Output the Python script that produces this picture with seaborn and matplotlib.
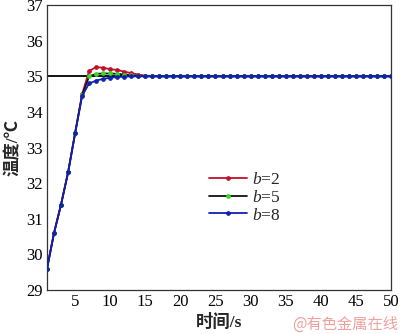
import matplotlib
matplotlib.use("Agg")
import matplotlib.pyplot as plt
import seaborn as sns
import pandas as pd

# time axis (s) and temperature responses for three values of b
time_s = list(range(1, 51))

temp_b2 = [29.6, 30.6, 31.4, 32.3, 33.4, 34.5, 35.15, 35.26, 35.24, 35.2,
           35.18, 35.13, 35.09, 35.05, 35.02, 35.01, 35.0, 35.0, 35.0, 35.0,
           35.0, 35.0, 35.0, 35.0, 35.0, 35.0, 35.0, 35.0, 35.0, 35.0,
           35.0, 35.0, 35.0, 35.0, 35.0, 35.0, 35.0, 35.0, 35.0, 35.0,
           35.0, 35.0, 35.0, 35.0, 35.0, 35.0, 35.0, 35.0, 35.0, 35.0]
temp_b5 = [29.6, 30.6, 31.4, 32.3, 33.4, 34.47, 35.0, 35.07, 35.08, 35.08,
           35.07, 35.05, 35.03, 35.01, 35.0, 35.0, 35.0, 35.0, 35.0, 35.0,
           35.0, 35.0, 35.0, 35.0, 35.0, 35.0, 35.0, 35.0, 35.0, 35.0,
           35.0, 35.0, 35.0, 35.0, 35.0, 35.0, 35.0, 35.0, 35.0, 35.0,
           35.0, 35.0, 35.0, 35.0, 35.0, 35.0, 35.0, 35.0, 35.0, 35.0]
temp_b8 = [29.6, 30.6, 31.4, 32.3, 33.4, 34.45, 34.8, 34.88, 34.93, 34.96,
           34.98, 34.99, 35.0, 35.0, 35.0, 35.0, 35.0, 35.0, 35.0, 35.0,
           35.0, 35.0, 35.0, 35.0, 35.0, 35.0, 35.0, 35.0, 35.0, 35.0,
           35.0, 35.0, 35.0, 35.0, 35.0, 35.0, 35.0, 35.0, 35.0, 35.0,
           35.0, 35.0, 35.0, 35.0, 35.0, 35.0, 35.0, 35.0, 35.0, 35.0]
setpoint = 35.0

series_labels = ["$b$=2", "$b$=5", "$b$=8"]
x_ticks = [5, 10, 15, 20, 25, 30, 35, 40, 45, 50]
y_ticks = [29, 30, 31, 32, 33, 34, 35, 36, 37]

sns.set_theme(style="white")
plt.rcParams["font.family"] = ["Liberation Serif", "Noto Sans CJK SC"]
plt.rcParams["mathtext.fontset"] = "custom"
plt.rcParams["mathtext.it"] = "Liberation Serif:italic"
plt.rcParams["mathtext.rm"] = "Liberation Serif"

fig = plt.figure(figsize=(4.0, 3.34), dpi=100)
ax = fig.add_axes([0.1175, 0.1317, 0.86, 0.853])

ax.axhline(setpoint, color="black", lw=1.3, zorder=1)

line_colors = ["#c0102a", "#111111", "#1020b0"]
marker_colors = ["#c0102a", "#33dd22", "#1020b0"]
for vals, lab, lc, mc in zip([temp_b2, temp_b5, temp_b8], series_labels,
                             line_colors, marker_colors):
    df = pd.DataFrame({"t": time_s, "T": vals})
    sns.lineplot(data=df, x="t", y="T", ax=ax, color=lc, lw=1.3,
                 marker="o", markersize=2.6, markerfacecolor=mc,
                 markeredgecolor=mc, label=lab, zorder=3)

ax.set_xlim(1, 50)
ax.set_ylim(29, 37)
ax.set_xticks(x_ticks)
ax.set_yticks(y_ticks)
ax.tick_params(direction="in", length=4, width=0.8, labelsize=12,
               colors="black", pad=3)
for s in ax.spines.values():
    s.set_color("#333333")
    s.set_linewidth(0.9)

ax.set_xlabel("时间/s", fontsize=12.5, fontweight="bold", labelpad=3)
ax.set_ylabel("温度/℃", fontsize=12.5, fontweight="bold", labelpad=3)

leg = ax.legend(loc="upper left", bbox_to_anchor=(0.45, 0.44), frameon=False,
                fontsize=12.5, handlelength=2.2, handletextpad=0.3,
                labelspacing=0.1, borderaxespad=0)

fig.text(0.995, 0.005, "@有色金属在线", ha="right", va="bottom",
         fontsize=11, color="#f0a0a0", family=["Noto Sans CJK SC"])

fig.savefig("out.png", dpi=100)
